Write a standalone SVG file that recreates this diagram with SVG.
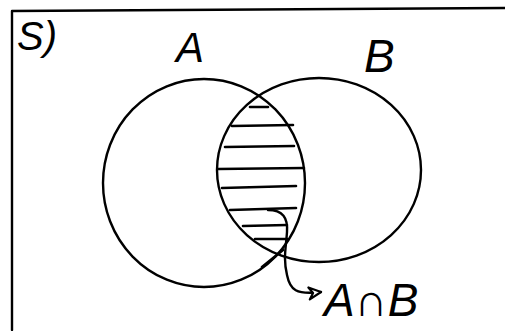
<svg xmlns="http://www.w3.org/2000/svg" width="505" height="331" viewBox="0 0 505 331">
<style>
.ln{fill:none;stroke:#000;stroke-width:2.4;stroke-linecap:round;stroke-linejoin:round}
.h{stroke:#000;stroke-width:2.6;stroke-linecap:round}
.t{font-family:"Liberation Sans",Arial,sans-serif;font-style:italic;fill:#000}
</style>
<defs>
<marker id="arr" viewBox="0 0 16 16" refX="14" refY="8" markerWidth="16" markerHeight="16" markerUnits="userSpaceOnUse" orient="auto">
<path d="M2,2 L14,8 L2,14 L6,8 Z" fill="#fff" stroke="#000" stroke-width="2.2" stroke-linejoin="round"/>
</marker>
</defs>
<rect width="505" height="331" fill="#fff"/>
<g id="frame">
<path class="ln" d="M12,330 L12,11 L505,8"/>
<text class="t" x="17" y="50" font-size="40">S)</text>
</g>
<g id="setA">
<ellipse class="ln" cx="204" cy="183" rx="101" ry="104"/>
<text class="t" x="176" y="62" font-size="42">A</text>
</g>
<g id="setB">
<ellipse class="ln" cx="319" cy="170" rx="102" ry="92"/>
<text class="t" x="364" y="72" font-size="46">B</text>
</g>
<g id="intersection">
<line class="h" x1="250" y1="107" x2="268" y2="107"/>
<line class="h" x1="232" y1="126" x2="293" y2="125"/>
<line class="h" x1="225" y1="147" x2="294" y2="146"/>
<line class="h" x1="218" y1="169" x2="304" y2="168"/>
<line class="h" x1="222" y1="188" x2="296" y2="186"/>
<line class="h" x1="230" y1="210" x2="296" y2="208"/>
<line class="h" x1="243" y1="226" x2="287" y2="225"/>
<line class="h" x1="255" y1="239" x2="287" y2="239"/>
</g>
<g id="connectors">
<line class="h" x1="262" y1="267" x2="283" y2="250"/>
<path class="ln" d="M268,210 C283,210 288,218 287,232 C286,248 283,258 287,275 C290,290 296,295 321,292" marker-end="url(#arr)"/>
</g>
<g id="label">
<text class="t" x="324" y="316" font-size="46">A∩B</text>
</g>
</svg>
